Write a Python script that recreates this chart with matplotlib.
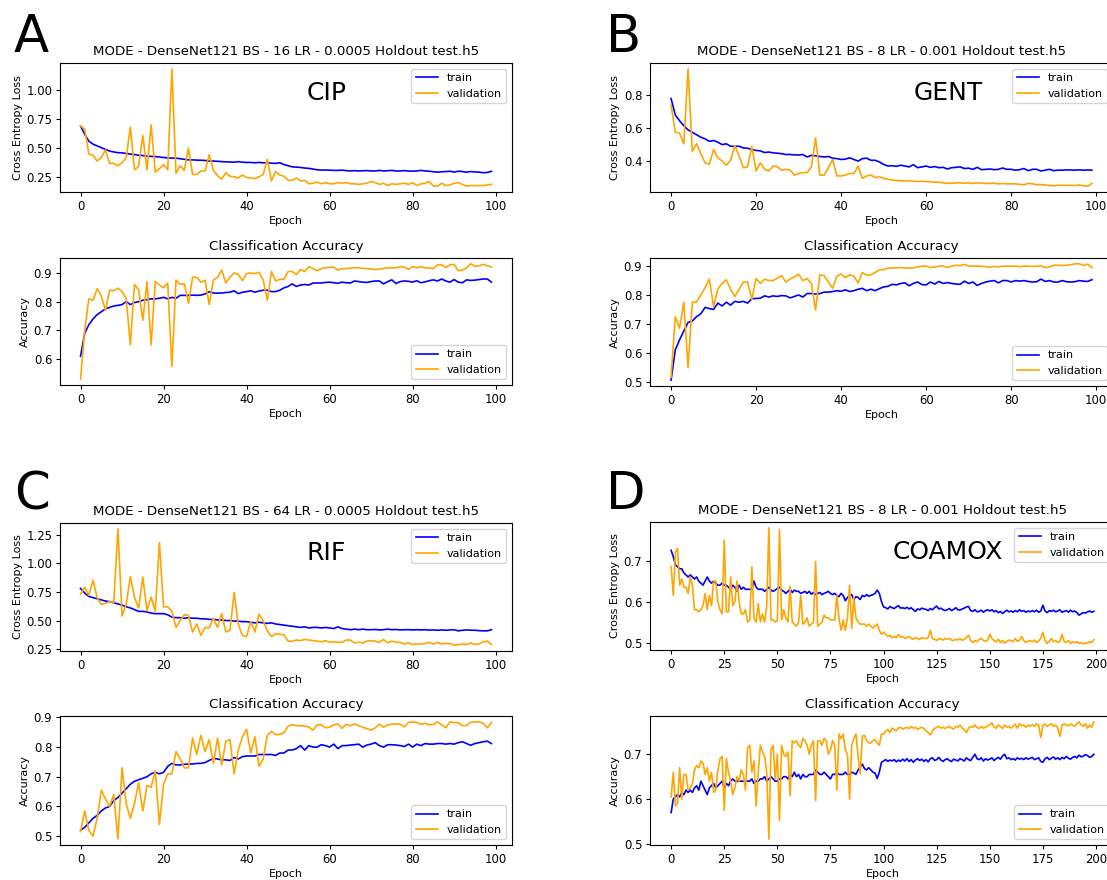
import numpy as np
import matplotlib.pyplot as plt
from matplotlib.ticker import MultipleLocator

# ---- panel A (CIP) ----
a_loss_train = [0.69, 0.62, 0.56, 0.535, 0.52, 0.505, 0.49, 0.475, 0.468, 0.462,
                0.46, 0.455, 0.45, 0.445, 0.44, 0.437, 0.432, 0.43, 0.428, 0.425,
                0.42, 0.418, 0.415, 0.415, 0.41, 0.405, 0.40, 0.40, 0.398, 0.397,
                0.395, 0.39, 0.39, 0.388, 0.385, 0.383, 0.382, 0.38, 0.385, 0.38,
                0.378, 0.378, 0.375, 0.378, 0.375, 0.375, 0.372, 0.37, 0.375, 0.36,
                0.35, 0.34, 0.338, 0.335, 0.33, 0.327, 0.322, 0.315, 0.313, 0.313,
                0.312, 0.31, 0.31, 0.312, 0.308, 0.305, 0.308, 0.305, 0.307, 0.308,
                0.305, 0.305, 0.31, 0.305, 0.307, 0.31, 0.305, 0.305, 0.308, 0.305,
                0.303, 0.305, 0.31, 0.305, 0.303, 0.298, 0.295, 0.298, 0.30, 0.303,
                0.295, 0.303, 0.30, 0.295, 0.30, 0.297, 0.295, 0.29, 0.292, 0.302]
a_loss_val = [0.69, 0.665, 0.45, 0.44, 0.39, 0.42, 0.485, 0.37, 0.37, 0.35,
              0.375, 0.42, 0.68, 0.315, 0.345, 0.61, 0.315, 0.70, 0.295, 0.325,
              0.36, 0.315, 1.18, 0.285, 0.35, 0.31, 0.50, 0.275, 0.275, 0.305,
              0.305, 0.445, 0.31, 0.265, 0.235, 0.29, 0.26, 0.255, 0.245, 0.27,
              0.25, 0.245, 0.24, 0.255, 0.275, 0.405, 0.22, 0.30, 0.27, 0.26,
              0.225, 0.225, 0.245, 0.22, 0.225, 0.195, 0.20, 0.21, 0.195, 0.205,
              0.195, 0.195, 0.205, 0.20, 0.205, 0.195, 0.195, 0.19, 0.195, 0.20,
              0.215, 0.205, 0.19, 0.20, 0.18, 0.195, 0.19, 0.195, 0.20, 0.19,
              0.205, 0.18, 0.195, 0.20, 0.215, 0.175, 0.175, 0.20, 0.18, 0.185,
              0.20, 0.205, 0.19, 0.175, 0.18, 0.18, 0.18, 0.18, 0.185, 0.19]
a_acc_train = [0.61, 0.69, 0.72, 0.74, 0.755, 0.765, 0.775, 0.78, 0.785, 0.787,
               0.79, 0.80, 0.79, 0.797, 0.80, 0.805, 0.807, 0.81, 0.81, 0.812,
               0.815, 0.81, 0.815, 0.812, 0.822, 0.822, 0.822, 0.823, 0.822, 0.823,
               0.827, 0.835, 0.83, 0.83, 0.83, 0.832, 0.833, 0.838, 0.828, 0.833,
               0.835, 0.838, 0.833, 0.837, 0.84, 0.84, 0.835, 0.835, 0.84, 0.848,
               0.853, 0.862, 0.853, 0.858, 0.86, 0.858, 0.865, 0.865, 0.865, 0.867,
               0.868, 0.866, 0.864, 0.868, 0.866, 0.865, 0.872, 0.87, 0.868, 0.867,
               0.87, 0.872, 0.872, 0.862, 0.87, 0.876, 0.863, 0.87, 0.872, 0.871,
               0.868, 0.873, 0.866, 0.869, 0.873, 0.876, 0.872, 0.879, 0.872, 0.868,
               0.877, 0.868, 0.866, 0.876, 0.874, 0.875, 0.877, 0.879, 0.879, 0.868]
a_acc_val = [0.53, 0.70, 0.81, 0.805, 0.845, 0.82, 0.77, 0.84, 0.838, 0.847,
             0.835, 0.81, 0.65, 0.86, 0.84, 0.735, 0.87, 0.65, 0.87, 0.858,
             0.848, 0.865, 0.575, 0.875, 0.86, 0.862, 0.795, 0.885, 0.885, 0.868,
             0.875, 0.79, 0.875, 0.885, 0.91, 0.866, 0.885, 0.90, 0.895, 0.873,
             0.898, 0.90, 0.898, 0.902, 0.875, 0.805, 0.905, 0.872, 0.878, 0.878,
             0.905, 0.905, 0.895, 0.912, 0.905, 0.922, 0.915, 0.908, 0.915, 0.918,
             0.92, 0.92, 0.91, 0.915, 0.915, 0.917, 0.918, 0.918, 0.916, 0.915,
             0.914, 0.912, 0.913, 0.916, 0.918, 0.918, 0.918, 0.922, 0.92, 0.913,
             0.922, 0.918, 0.922, 0.918, 0.917, 0.915, 0.928, 0.928, 0.92, 0.928,
             0.93, 0.908, 0.91, 0.918, 0.932, 0.923, 0.925, 0.93, 0.925, 0.921]

# ---- panel B (GENT) ----
b_loss_train = [0.78, 0.68, 0.645, 0.615, 0.59, 0.575, 0.56, 0.545, 0.535, 0.52,
                0.525, 0.515, 0.50, 0.505, 0.49, 0.49, 0.49, 0.48, 0.478, 0.47,
                0.465, 0.462, 0.452, 0.455, 0.45, 0.448, 0.445, 0.44, 0.44, 0.438,
                0.437, 0.44, 0.425, 0.435, 0.432, 0.428, 0.425, 0.428, 0.418, 0.415,
                0.41, 0.412, 0.42, 0.41, 0.40, 0.415, 0.418, 0.405, 0.405, 0.395,
                0.38, 0.37, 0.372, 0.368, 0.375, 0.37, 0.365, 0.378, 0.36, 0.365,
                0.37, 0.362, 0.367, 0.36, 0.362, 0.352, 0.36, 0.362, 0.365, 0.355,
                0.357, 0.35, 0.362, 0.348, 0.35, 0.352, 0.348, 0.35, 0.358, 0.35,
                0.35, 0.345, 0.348, 0.355, 0.342, 0.35, 0.35, 0.34, 0.345, 0.35,
                0.342, 0.345, 0.345, 0.347, 0.346, 0.345, 0.347, 0.345, 0.346, 0.345]
b_loss_val = [0.74, 0.575, 0.57, 0.505, 0.96, 0.46, 0.505, 0.445, 0.39, 0.38,
              0.47, 0.42, 0.40, 0.375, 0.405, 0.495, 0.43, 0.36, 0.365, 0.49,
              0.34, 0.39, 0.35, 0.34, 0.37, 0.365, 0.345, 0.35, 0.345, 0.315,
              0.325, 0.33, 0.33, 0.365, 0.54, 0.315, 0.315, 0.36, 0.41, 0.31,
              0.31, 0.315, 0.325, 0.325, 0.37, 0.295, 0.31, 0.315, 0.30, 0.305,
              0.295, 0.29, 0.285, 0.283, 0.28, 0.28, 0.28, 0.278, 0.276, 0.278,
              0.275, 0.275, 0.272, 0.272, 0.268, 0.265, 0.266, 0.267, 0.268, 0.265,
              0.268, 0.264, 0.268, 0.266, 0.265, 0.264, 0.266, 0.262, 0.264, 0.262,
              0.262, 0.262, 0.258, 0.256, 0.265, 0.262, 0.256, 0.258, 0.255, 0.252,
              0.25, 0.253, 0.253, 0.252, 0.253, 0.252, 0.255, 0.25, 0.248, 0.265]
b_acc_train = [0.505, 0.61, 0.645, 0.675, 0.705, 0.71, 0.725, 0.735, 0.757, 0.753,
               0.75, 0.772, 0.762, 0.775, 0.765, 0.778, 0.775, 0.778, 0.772, 0.787,
               0.788, 0.789, 0.797, 0.793, 0.797, 0.795, 0.798, 0.797, 0.79, 0.795,
               0.80, 0.793, 0.805, 0.805, 0.803, 0.805, 0.81, 0.81, 0.812, 0.815,
               0.813, 0.818, 0.812, 0.815, 0.82, 0.823, 0.815, 0.82, 0.815, 0.822,
               0.828, 0.83, 0.837, 0.835, 0.84, 0.842, 0.832, 0.84, 0.845, 0.836,
               0.835, 0.845, 0.838, 0.847, 0.84, 0.843, 0.84, 0.838, 0.837, 0.848,
               0.84, 0.845, 0.833, 0.84, 0.845, 0.848, 0.85, 0.842, 0.85, 0.85,
               0.845, 0.85, 0.848, 0.85, 0.847, 0.845, 0.846, 0.855, 0.847, 0.85,
               0.845, 0.845, 0.85, 0.846, 0.845, 0.846, 0.85, 0.848, 0.847, 0.853]
b_acc_val = [0.515, 0.725, 0.685, 0.775, 0.548, 0.775, 0.775, 0.80, 0.825, 0.855,
             0.76, 0.82, 0.84, 0.853, 0.82, 0.795, 0.82, 0.845, 0.845, 0.785,
             0.857, 0.84, 0.855, 0.85, 0.85, 0.858, 0.867, 0.845, 0.855, 0.863,
             0.872, 0.85, 0.857, 0.84, 0.748, 0.87, 0.867, 0.845, 0.823, 0.865,
             0.873, 0.86, 0.87, 0.865, 0.842, 0.878, 0.868, 0.87, 0.878, 0.887,
             0.888, 0.893, 0.894, 0.894, 0.895, 0.893, 0.893, 0.894, 0.897, 0.90,
             0.90, 0.895, 0.897, 0.90, 0.901, 0.895, 0.90, 0.903, 0.902, 0.906,
             0.90, 0.90, 0.90, 0.90, 0.898, 0.896, 0.899, 0.897, 0.90, 0.90,
             0.90, 0.90, 0.898, 0.90, 0.90, 0.899, 0.90, 0.901, 0.895, 0.897,
             0.903, 0.903, 0.902, 0.903, 0.905, 0.908, 0.908, 0.902, 0.907, 0.895]

# ---- panel C (RIF) ----
c_loss_train = [0.78, 0.74, 0.71, 0.70, 0.69, 0.68, 0.67, 0.665, 0.655, 0.645,
                0.635, 0.62, 0.61, 0.595, 0.58, 0.58, 0.575, 0.565, 0.56, 0.56,
                0.56, 0.55, 0.53, 0.525, 0.525, 0.52, 0.525, 0.52, 0.52, 0.515,
                0.515, 0.51, 0.51, 0.505, 0.505, 0.50, 0.50, 0.495, 0.495, 0.49,
                0.49, 0.485, 0.48, 0.485, 0.48, 0.475, 0.48, 0.47, 0.465, 0.46,
                0.455, 0.45, 0.445, 0.44, 0.445, 0.435, 0.44, 0.44, 0.435, 0.44,
                0.435, 0.43, 0.445, 0.43, 0.425, 0.42, 0.425, 0.42, 0.425, 0.42,
                0.42, 0.422, 0.418, 0.42, 0.425, 0.42, 0.422, 0.418, 0.42, 0.42,
                0.418, 0.42, 0.418, 0.42, 0.416, 0.418, 0.415, 0.418, 0.415, 0.418,
                0.42, 0.41, 0.415, 0.418, 0.416, 0.415, 0.412, 0.41, 0.41, 0.42]
c_loss_val = [0.73, 0.79, 0.72, 0.85, 0.70, 0.64, 0.65, 0.665, 0.655, 1.30,
              0.54, 0.64, 0.885, 0.70, 0.61, 0.88, 0.585, 0.705, 0.58, 1.18,
              0.62, 0.62, 0.58, 0.44, 0.50, 0.55, 0.545, 0.40, 0.47, 0.37,
              0.44, 0.435, 0.52, 0.44, 0.56, 0.40, 0.415, 0.745, 0.47, 0.37,
              0.36, 0.49, 0.40, 0.555, 0.50, 0.41, 0.36, 0.385, 0.38, 0.375,
              0.32, 0.32, 0.33, 0.325, 0.335, 0.33, 0.325, 0.32, 0.315, 0.325,
              0.31, 0.315, 0.31, 0.31, 0.33, 0.33, 0.305, 0.31, 0.305, 0.32,
              0.325, 0.32, 0.31, 0.335, 0.305, 0.32, 0.31, 0.31, 0.295, 0.305,
              0.29, 0.295, 0.295, 0.30, 0.31, 0.295, 0.31, 0.295, 0.30, 0.30,
              0.285, 0.29, 0.295, 0.29, 0.305, 0.29, 0.295, 0.315, 0.32, 0.29]
c_acc_train = [0.52, 0.53, 0.545, 0.56, 0.57, 0.585, 0.595, 0.60, 0.62, 0.63,
               0.645, 0.66, 0.675, 0.685, 0.69, 0.695, 0.70, 0.71, 0.715, 0.71,
               0.715, 0.735, 0.745, 0.74, 0.74, 0.742, 0.743, 0.743, 0.745, 0.745,
               0.748, 0.755, 0.762, 0.76, 0.757, 0.757, 0.755, 0.765, 0.76, 0.768,
               0.77, 0.77, 0.77, 0.775, 0.775, 0.775, 0.775, 0.772, 0.78, 0.78,
               0.79, 0.79, 0.795, 0.805, 0.79, 0.805, 0.80, 0.80, 0.808, 0.805,
               0.80, 0.81, 0.795, 0.805, 0.805, 0.807, 0.808, 0.81, 0.80, 0.807,
               0.81, 0.815, 0.805, 0.80, 0.808, 0.808, 0.807, 0.805, 0.802, 0.81,
               0.80, 0.81, 0.805, 0.812, 0.81, 0.81, 0.812, 0.812, 0.81, 0.812,
               0.81, 0.815, 0.818, 0.812, 0.806, 0.812, 0.815, 0.818, 0.82, 0.812]
c_acc_val = [0.515, 0.585, 0.52, 0.50, 0.56, 0.655, 0.625, 0.60, 0.64, 0.49,
             0.73, 0.61, 0.56, 0.61, 0.68, 0.585, 0.67, 0.665, 0.72, 0.54,
             0.675, 0.71, 0.71, 0.785, 0.76, 0.73, 0.73, 0.83, 0.775, 0.84,
             0.785, 0.825, 0.745, 0.83, 0.74, 0.82, 0.825, 0.71, 0.79, 0.835,
             0.86, 0.78, 0.835, 0.735, 0.76, 0.84, 0.853, 0.842, 0.843, 0.848,
             0.87, 0.876, 0.872, 0.872, 0.87, 0.868, 0.857, 0.875, 0.875, 0.865,
             0.867, 0.875, 0.878, 0.863, 0.877, 0.872, 0.878, 0.872, 0.867, 0.862,
             0.857, 0.865, 0.877, 0.867, 0.875, 0.877, 0.878, 0.877, 0.868, 0.883,
             0.885, 0.883, 0.877, 0.88, 0.875, 0.876, 0.885, 0.875, 0.865, 0.885,
             0.883, 0.882, 0.872, 0.873, 0.883, 0.885, 0.885, 0.88, 0.865, 0.883]

# ---- panel D (COAMOX), 200 epochs ----
d_loss_train = [0.725, 0.71, 0.69, 0.685, 0.68, 0.68, 0.67, 0.665, 0.66, 0.665,
                0.66, 0.655, 0.66, 0.65, 0.645, 0.64, 0.65, 0.66, 0.65, 0.645,
                0.65, 0.645, 0.64, 0.64, 0.645, 0.64, 0.64, 0.635, 0.63, 0.64,
                0.635, 0.625, 0.64, 0.63, 0.635, 0.63, 0.63, 0.63, 0.63, 0.65,
                0.635, 0.63, 0.63, 0.63, 0.625, 0.63, 0.635, 0.628, 0.625, 0.628,
                0.632, 0.635, 0.628, 0.625, 0.62, 0.625, 0.63, 0.622, 0.628, 0.625,
                0.625, 0.62, 0.622, 0.625, 0.62, 0.625, 0.618, 0.622, 0.617, 0.62,
                0.622, 0.617, 0.62, 0.622, 0.625, 0.62, 0.617, 0.62, 0.615, 0.612,
                0.62, 0.615, 0.602, 0.61, 0.615, 0.617, 0.605, 0.612, 0.61, 0.605,
                0.615, 0.612, 0.617, 0.613, 0.615, 0.617, 0.62, 0.628, 0.62, 0.60,
                0.587, 0.585, 0.582, 0.588, 0.585, 0.583, 0.587, 0.59, 0.584, 0.585,
                0.583, 0.586, 0.582, 0.585, 0.58, 0.576, 0.582, 0.58, 0.584, 0.582,
                0.581, 0.578, 0.583, 0.58, 0.585, 0.589, 0.582, 0.584, 0.58, 0.578,
                0.58, 0.583, 0.578, 0.581, 0.585, 0.58, 0.579, 0.582, 0.584, 0.587,
                0.588, 0.578, 0.576, 0.58, 0.575, 0.576, 0.579, 0.574, 0.578, 0.58,
                0.577, 0.58, 0.575, 0.578, 0.573, 0.576, 0.571, 0.575, 0.579, 0.575,
                0.577, 0.574, 0.578, 0.575, 0.58, 0.576, 0.578, 0.574, 0.577, 0.575,
                0.578, 0.575, 0.579, 0.574, 0.577, 0.591, 0.577, 0.573, 0.578, 0.576,
                0.579, 0.575, 0.577, 0.58, 0.574, 0.576, 0.578, 0.574, 0.579, 0.575,
                0.577, 0.573, 0.567, 0.57, 0.573, 0.572, 0.575, 0.577, 0.574, 0.576]
d_loss_val = [0.685, 0.615, 0.72, 0.73, 0.64, 0.655, 0.635, 0.635, 0.62, 0.66,
              0.64, 0.58, 0.58, 0.575, 0.58, 0.59, 0.62, 0.58, 0.615, 0.59,
              0.65, 0.65, 0.60, 0.58, 0.57, 0.75, 0.575, 0.575, 0.66, 0.59,
              0.60, 0.65, 0.60, 0.57, 0.57, 0.58, 0.55, 0.555, 0.685, 0.56,
              0.55, 0.595, 0.55, 0.57, 0.55, 0.59, 0.78, 0.555, 0.555, 0.55,
              0.555, 0.775, 0.555, 0.58, 0.56, 0.55, 0.637, 0.55, 0.545, 0.54,
              0.55, 0.615, 0.545, 0.55, 0.56, 0.54, 0.545, 0.55, 0.698, 0.54,
              0.545, 0.55, 0.567, 0.56, 0.56, 0.555, 0.555, 0.555, 0.615, 0.56,
              0.53, 0.555, 0.53, 0.56, 0.64, 0.535, 0.61, 0.56, 0.55, 0.545,
              0.545, 0.545, 0.54, 0.545, 0.54, 0.535, 0.54, 0.545, 0.53, 0.52,
              0.525, 0.52, 0.515, 0.518, 0.512, 0.515, 0.512, 0.52, 0.513, 0.515,
              0.51, 0.512, 0.515, 0.51, 0.508, 0.512, 0.51, 0.507, 0.512, 0.51,
              0.51, 0.512, 0.53, 0.51, 0.508, 0.505, 0.51, 0.508, 0.506, 0.51,
              0.508, 0.51, 0.506, 0.505, 0.508, 0.506, 0.51, 0.505, 0.508, 0.512,
              0.518, 0.505, 0.50, 0.505, 0.502, 0.508, 0.51, 0.505, 0.503, 0.506,
              0.52, 0.51, 0.505, 0.502, 0.508, 0.50, 0.505, 0.498, 0.503, 0.506,
              0.505, 0.502, 0.51, 0.503, 0.506, 0.515, 0.505, 0.50, 0.503, 0.505,
              0.502, 0.506, 0.50, 0.504, 0.51, 0.525, 0.505, 0.498, 0.503, 0.51,
              0.502, 0.505, 0.50, 0.503, 0.52, 0.503, 0.50, 0.505, 0.498, 0.502,
              0.50, 0.502, 0.498, 0.50, 0.496, 0.50, 0.498, 0.502, 0.50, 0.507]
d_acc_train = [0.57, 0.60, 0.605, 0.61, 0.605, 0.615, 0.61, 0.62, 0.615, 0.62,
               0.615, 0.625, 0.63, 0.62, 0.64, 0.63, 0.62, 0.61, 0.625, 0.63,
               0.635, 0.625, 0.63, 0.635, 0.64, 0.625, 0.635, 0.63, 0.64, 0.645,
               0.64, 0.64, 0.64, 0.64, 0.64, 0.64, 0.64, 0.64, 0.645, 0.635,
               0.64, 0.64, 0.645, 0.645, 0.65, 0.64, 0.645, 0.65, 0.645, 0.64,
               0.64, 0.645, 0.645, 0.65, 0.65, 0.645, 0.655, 0.65, 0.66, 0.65,
               0.655, 0.645, 0.655, 0.65, 0.65, 0.655, 0.655, 0.655, 0.665, 0.66,
               0.655, 0.655, 0.66, 0.655, 0.65, 0.645, 0.655, 0.655, 0.66, 0.655,
               0.655, 0.655, 0.66, 0.655, 0.655, 0.66, 0.658, 0.655, 0.665, 0.672,
               0.678, 0.668, 0.665, 0.67, 0.665, 0.66, 0.658, 0.646, 0.66, 0.682,
               0.685, 0.688, 0.684, 0.687, 0.685, 0.688, 0.683, 0.687, 0.684, 0.689,
               0.685, 0.69, 0.684, 0.688, 0.682, 0.687, 0.69, 0.686, 0.689, 0.684,
               0.688, 0.683, 0.69, 0.692, 0.686, 0.688, 0.693, 0.687, 0.684, 0.688,
               0.69, 0.686, 0.684, 0.689, 0.687, 0.685, 0.69, 0.688, 0.685, 0.692,
               0.688, 0.686, 0.693, 0.70, 0.69, 0.688, 0.692, 0.685, 0.69, 0.687,
               0.689, 0.692, 0.686, 0.69, 0.693, 0.689, 0.696, 0.70, 0.69, 0.692,
               0.688, 0.69, 0.687, 0.692, 0.689, 0.691, 0.688, 0.692, 0.689, 0.691,
               0.693, 0.688, 0.69, 0.692, 0.684, 0.682, 0.69, 0.693, 0.688, 0.691,
               0.694, 0.689, 0.692, 0.688, 0.693, 0.69, 0.695, 0.691, 0.689, 0.693,
               0.695, 0.692, 0.698, 0.694, 0.696, 0.699, 0.697, 0.693, 0.695, 0.70]
d_acc_val = [0.605, 0.66, 0.585, 0.59, 0.67, 0.60, 0.655, 0.655, 0.62, 0.625,
             0.635, 0.665, 0.675, 0.67, 0.685, 0.68, 0.655, 0.67, 0.64, 0.66,
             0.615, 0.62, 0.665, 0.69, 0.695, 0.575, 0.69, 0.66, 0.64, 0.61,
             0.625, 0.65, 0.64, 0.665, 0.655, 0.62, 0.715, 0.72, 0.66, 0.685,
             0.585, 0.66, 0.72, 0.705, 0.695, 0.66, 0.511, 0.71, 0.72, 0.645,
             0.70, 0.552, 0.72, 0.70, 0.695, 0.705, 0.608, 0.73, 0.725, 0.73,
             0.72, 0.715, 0.735, 0.73, 0.72, 0.70, 0.72, 0.73, 0.597, 0.73,
             0.73, 0.72, 0.735, 0.73, 0.70, 0.71, 0.73, 0.72, 0.62, 0.745,
             0.735, 0.745, 0.71, 0.70, 0.60, 0.72, 0.735, 0.745, 0.695, 0.657,
             0.74, 0.742, 0.73, 0.725, 0.725, 0.73, 0.733, 0.725, 0.72, 0.745,
             0.745, 0.752, 0.755, 0.748, 0.758, 0.755, 0.752, 0.758, 0.76, 0.756,
             0.758, 0.76, 0.757, 0.762, 0.758, 0.76, 0.755, 0.758, 0.76, 0.757,
             0.752, 0.748, 0.743, 0.752, 0.757, 0.76, 0.762, 0.758, 0.76, 0.757,
             0.76, 0.762, 0.758, 0.756, 0.762, 0.76, 0.765, 0.758, 0.755, 0.748,
             0.758, 0.762, 0.76, 0.765, 0.76, 0.757, 0.762, 0.758, 0.76, 0.763,
             0.765, 0.77, 0.76, 0.758, 0.765, 0.762, 0.757, 0.765, 0.76, 0.762,
             0.758, 0.762, 0.767, 0.758, 0.768, 0.763, 0.765, 0.76, 0.765, 0.762,
             0.766, 0.762, 0.768, 0.765, 0.737, 0.765, 0.767, 0.762, 0.765, 0.768,
             0.762, 0.765, 0.758, 0.74, 0.765, 0.768, 0.765, 0.763, 0.767, 0.765,
             0.762, 0.768, 0.772, 0.765, 0.762, 0.768, 0.758, 0.765, 0.76, 0.772]

panels = [
    ("A", "CIP", "MODE - DenseNet121 BS - 16 LR - 0.0005 Holdout test.h5",
     a_loss_train, a_loss_val, a_acc_train, a_acc_val, 0.25, 0.1, 20),
    ("B", "GENT", "MODE - DenseNet121 BS - 8 LR - 0.001 Holdout test.h5",
     b_loss_train, b_loss_val, b_acc_train, b_acc_val, 0.2, 0.1, 20),
    ("C", "RIF", "MODE - DenseNet121 BS - 64 LR - 0.0005 Holdout test.h5",
     c_loss_train, c_loss_val, c_acc_train, c_acc_val, 0.25, 0.1, 20),
    ("D", "COAMOX", "MODE - DenseNet121 BS - 8 LR - 0.001 Holdout test.h5",
     d_loss_train, d_loss_val, d_acc_train, d_acc_val, 0.1, 0.1, 25),
]

# layout in pixels: (letter x, letter y, loss box, acc box, drug label x, y)
W, H = 1107, 880
layout = [
    (14, 38, (60, 63, 512, 192), (60, 258, 512, 385), 327, 93),
    (606, 38, (650, 63, 1113, 192), (650, 258, 1113, 386), 948, 93),
    (14, 495, (60, 523, 512, 651), (60, 716, 512, 845), 326, 553),
    (606, 495, (650, 522, 1115, 650), (650, 716, 1115, 845), 948, 552),
]

fs = 8
lw = 1.2
plt.rcParams['font.size'] = fs

fig = plt.figure(figsize=(W / 100, H / 100), dpi=100)


def px_axes(box):
    x0, y0, x1, y1 = box
    return fig.add_axes([x0 / W, 1 - y1 / H, (x1 - x0) / W, (y1 - y0) / H])


def style(ax, ylab, ystep, xstep, loc):
    ax.set_ylabel(ylab, fontsize=fs, labelpad=2.5)
    ax.set_xlabel("Epoch", fontsize=fs, labelpad=2.5)
    ax.yaxis.set_major_locator(MultipleLocator(ystep))
    ax.xaxis.set_major_locator(MultipleLocator(xstep))
    ax.tick_params(labelsize=8.4, length=3, pad=2.5)
    ax.legend(loc=loc, fontsize=8)


for (letter, drug, title, lt, lv, at, av, lstep, astep, xstep), (lx, ly, lbox, abox, dx, dy) in zip(panels, layout):
    ax1 = px_axes(lbox)
    ax1.plot(np.arange(len(lt)), lt, color="blue", lw=lw, label="train")
    ax1.plot(np.arange(len(lv)), lv, color="orange", lw=lw, label="validation")
    ax1.set_title(title, fontsize=9.6)
    style(ax1, "Cross Entropy Loss", lstep, xstep, "upper right")

    ax2 = px_axes(abox)
    ax2.plot(np.arange(len(at)), at, color="blue", lw=lw, label="train")
    ax2.plot(np.arange(len(av)), av, color="orange", lw=lw, label="validation")
    ax2.set_title("Classification Accuracy", fontsize=9.6)
    style(ax2, "Accuracy", astep, xstep, "lower right")

    fig.text(lx / W, 1 - ly / H, letter, fontsize=37, ha="left", va="center")
    fig.text(dx / W, 1 - dy / H, drug, fontsize=18, ha="center", va="center")

fig.savefig("out.png", dpi=100)
